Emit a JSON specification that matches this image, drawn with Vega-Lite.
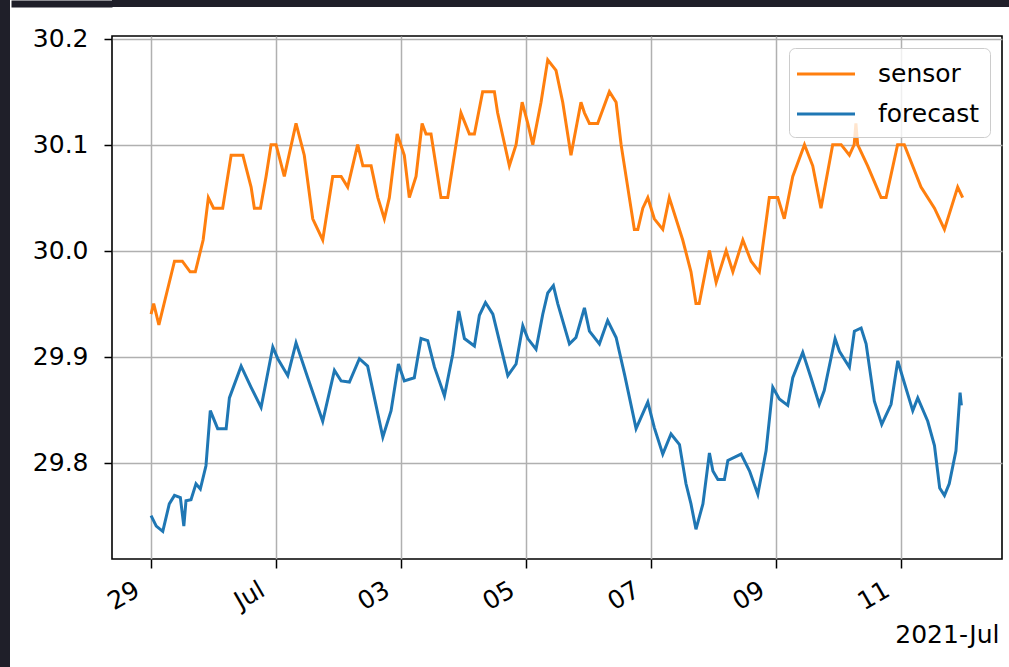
{
  "$schema": "https://vega.github.io/schema/vega-lite/v6.json",
  "padding": 0,
  "background": "white",
  "config": {
    "font": "DejaVu Sans",
    "view": {"stroke": null}
  },
  "datasets": {
    "series": [
      {"time": "2021-06-29T00:00", "series": "sensor", "value": 29.94},
      {"time": "2021-06-29T01:00", "series": "sensor", "value": 29.95},
      {"time": "2021-06-29T02:00", "series": "sensor", "value": 29.94},
      {"time": "2021-06-29T03:00", "series": "sensor", "value": 29.93},
      {"time": "2021-06-29T06:00", "series": "sensor", "value": 29.96},
      {"time": "2021-06-29T09:00", "series": "sensor", "value": 29.99},
      {"time": "2021-06-29T12:00", "series": "sensor", "value": 29.99},
      {"time": "2021-06-29T15:00", "series": "sensor", "value": 29.98},
      {"time": "2021-06-29T17:00", "series": "sensor", "value": 29.98},
      {"time": "2021-06-29T20:00", "series": "sensor", "value": 30.01},
      {"time": "2021-06-29T22:00", "series": "sensor", "value": 30.05},
      {"time": "2021-06-30T00:00", "series": "sensor", "value": 30.04},
      {"time": "2021-06-30T03:30", "series": "sensor", "value": 30.04},
      {"time": "2021-06-30T06:45", "series": "sensor", "value": 30.09},
      {"time": "2021-06-30T11:15", "series": "sensor", "value": 30.09},
      {"time": "2021-06-30T14:25", "series": "sensor", "value": 30.06},
      {"time": "2021-06-30T15:40", "series": "sensor", "value": 30.04},
      {"time": "2021-06-30T18:00", "series": "sensor", "value": 30.04},
      {"time": "2021-06-30T20:10", "series": "sensor", "value": 30.07},
      {"time": "2021-06-30T22:05", "series": "sensor", "value": 30.10},
      {"time": "2021-07-01T00:00", "series": "sensor", "value": 30.10},
      {"time": "2021-07-01T03:10", "series": "sensor", "value": 30.07},
      {"time": "2021-07-01T07:40", "series": "sensor", "value": 30.12},
      {"time": "2021-07-01T10:50", "series": "sensor", "value": 30.09},
      {"time": "2021-07-01T14:05", "series": "sensor", "value": 30.03},
      {"time": "2021-07-01T17:55", "series": "sensor", "value": 30.01},
      {"time": "2021-07-01T21:45", "series": "sensor", "value": 30.07},
      {"time": "2021-07-02T01:00", "series": "sensor", "value": 30.07},
      {"time": "2021-07-02T03:30", "series": "sensor", "value": 30.06},
      {"time": "2021-07-02T07:20", "series": "sensor", "value": 30.10},
      {"time": "2021-07-02T09:20", "series": "sensor", "value": 30.08},
      {"time": "2021-07-02T12:30", "series": "sensor", "value": 30.08},
      {"time": "2021-07-02T15:05", "series": "sensor", "value": 30.05},
      {"time": "2021-07-02T17:35", "series": "sensor", "value": 30.03},
      {"time": "2021-07-02T19:30", "series": "sensor", "value": 30.05},
      {"time": "2021-07-02T22:30", "series": "sensor", "value": 30.11},
      {"time": "2021-07-03T01:15", "series": "sensor", "value": 30.09},
      {"time": "2021-07-03T03:10", "series": "sensor", "value": 30.05},
      {"time": "2021-07-03T05:45", "series": "sensor", "value": 30.07},
      {"time": "2021-07-03T08:05", "series": "sensor", "value": 30.12},
      {"time": "2021-07-03T09:35", "series": "sensor", "value": 30.11},
      {"time": "2021-07-03T11:30", "series": "sensor", "value": 30.11},
      {"time": "2021-07-03T15:20", "series": "sensor", "value": 30.05},
      {"time": "2021-07-03T17:55", "series": "sensor", "value": 30.05},
      {"time": "2021-07-03T23:00", "series": "sensor", "value": 30.13},
      {"time": "2021-07-04T02:15", "series": "sensor", "value": 30.11},
      {"time": "2021-07-04T04:10", "series": "sensor", "value": 30.11},
      {"time": "2021-07-04T07:20", "series": "sensor", "value": 30.15},
      {"time": "2021-07-04T11:50", "series": "sensor", "value": 30.15},
      {"time": "2021-07-04T13:05", "series": "sensor", "value": 30.13},
      {"time": "2021-07-04T17:35", "series": "sensor", "value": 30.08},
      {"time": "2021-07-04T20:10", "series": "sensor", "value": 30.10},
      {"time": "2021-07-04T22:30", "series": "sensor", "value": 30.14},
      {"time": "2021-07-05T00:40", "series": "sensor", "value": 30.12},
      {"time": "2021-07-05T02:35", "series": "sensor", "value": 30.10},
      {"time": "2021-07-05T05:45", "series": "sensor", "value": 30.14},
      {"time": "2021-07-05T08:20", "series": "sensor", "value": 30.18},
      {"time": "2021-07-05T11:30", "series": "sensor", "value": 30.17},
      {"time": "2021-07-05T14:05", "series": "sensor", "value": 30.14},
      {"time": "2021-07-05T17:15", "series": "sensor", "value": 30.09},
      {"time": "2021-07-05T21:05", "series": "sensor", "value": 30.14},
      {"time": "2021-07-05T22:25", "series": "sensor", "value": 30.13},
      {"time": "2021-07-06T00:20", "series": "sensor", "value": 30.12},
      {"time": "2021-07-06T03:30", "series": "sensor", "value": 30.12},
      {"time": "2021-07-06T08:00", "series": "sensor", "value": 30.15},
      {"time": "2021-07-06T10:35", "series": "sensor", "value": 30.14},
      {"time": "2021-07-06T12:30", "series": "sensor", "value": 30.10},
      {"time": "2021-07-06T15:40", "series": "sensor", "value": 30.05},
      {"time": "2021-07-06T17:35", "series": "sensor", "value": 30.02},
      {"time": "2021-07-06T18:55", "series": "sensor", "value": 30.02},
      {"time": "2021-07-06T20:50", "series": "sensor", "value": 30.04},
      {"time": "2021-07-06T22:45", "series": "sensor", "value": 30.05},
      {"time": "2021-07-07T01:15", "series": "sensor", "value": 30.03},
      {"time": "2021-07-07T04:30", "series": "sensor", "value": 30.02},
      {"time": "2021-07-07T07:00", "series": "sensor", "value": 30.05},
      {"time": "2021-07-07T12:10", "series": "sensor", "value": 30.01},
      {"time": "2021-07-07T15:20", "series": "sensor", "value": 29.98},
      {"time": "2021-07-07T17:15", "series": "sensor", "value": 29.95},
      {"time": "2021-07-07T18:30", "series": "sensor", "value": 29.95},
      {"time": "2021-07-07T22:25", "series": "sensor", "value": 30.00},
      {"time": "2021-07-08T01:00", "series": "sensor", "value": 29.97},
      {"time": "2021-07-08T04:50", "series": "sensor", "value": 30.00},
      {"time": "2021-07-08T07:25", "series": "sensor", "value": 29.98},
      {"time": "2021-07-08T11:15", "series": "sensor", "value": 30.01},
      {"time": "2021-07-08T14:25", "series": "sensor", "value": 29.99},
      {"time": "2021-07-08T17:35", "series": "sensor", "value": 29.98},
      {"time": "2021-07-08T21:25", "series": "sensor", "value": 30.05},
      {"time": "2021-07-09T00:40", "series": "sensor", "value": 30.05},
      {"time": "2021-07-09T03:10", "series": "sensor", "value": 30.03},
      {"time": "2021-07-09T06:25", "series": "sensor", "value": 30.07},
      {"time": "2021-07-09T10:55", "series": "sensor", "value": 30.10},
      {"time": "2021-07-09T14:05", "series": "sensor", "value": 30.08},
      {"time": "2021-07-09T17:15", "series": "sensor", "value": 30.04},
      {"time": "2021-07-09T21:45", "series": "sensor", "value": 30.10},
      {"time": "2021-07-10T01:00", "series": "sensor", "value": 30.10},
      {"time": "2021-07-10T04:10", "series": "sensor", "value": 30.09},
      {"time": "2021-07-10T06:00", "series": "sensor", "value": 30.10},
      {"time": "2021-07-10T06:40", "series": "sensor", "value": 30.12},
      {"time": "2021-07-10T07:20", "series": "sensor", "value": 30.10},
      {"time": "2021-07-10T11:10", "series": "sensor", "value": 30.08},
      {"time": "2021-07-10T16:20", "series": "sensor", "value": 30.05},
      {"time": "2021-07-10T18:15", "series": "sensor", "value": 30.05},
      {"time": "2021-07-10T22:40", "series": "sensor", "value": 30.10},
      {"time": "2021-07-11T01:15", "series": "sensor", "value": 30.10},
      {"time": "2021-07-11T07:40", "series": "sensor", "value": 30.06},
      {"time": "2021-07-11T12:50", "series": "sensor", "value": 30.04},
      {"time": "2021-07-11T16:40", "series": "sensor", "value": 30.02},
      {"time": "2021-07-11T21:45", "series": "sensor", "value": 30.06},
      {"time": "2021-07-11T23:40", "series": "sensor", "value": 30.05},

      {"time": "2021-06-29T00:00", "series": "forecast", "value": 29.750},
      {"time": "2021-06-29T02:00", "series": "forecast", "value": 29.740},
      {"time": "2021-06-29T04:30", "series": "forecast", "value": 29.735},
      {"time": "2021-06-29T07:00", "series": "forecast", "value": 29.761},
      {"time": "2021-06-29T09:00", "series": "forecast", "value": 29.769},
      {"time": "2021-06-29T11:15", "series": "forecast", "value": 29.767},
      {"time": "2021-06-29T12:35", "series": "forecast", "value": 29.740},
      {"time": "2021-06-29T13:25", "series": "forecast", "value": 29.764},
      {"time": "2021-06-29T15:20", "series": "forecast", "value": 29.765},
      {"time": "2021-06-29T17:15", "series": "forecast", "value": 29.780},
      {"time": "2021-06-29T18:55", "series": "forecast", "value": 29.775},
      {"time": "2021-06-29T21:05", "series": "forecast", "value": 29.797},
      {"time": "2021-06-29T22:45", "series": "forecast", "value": 29.849},
      {"time": "2021-06-30T01:35", "series": "forecast", "value": 29.832},
      {"time": "2021-06-30T04:50", "series": "forecast", "value": 29.832},
      {"time": "2021-06-30T06:05", "series": "forecast", "value": 29.861},
      {"time": "2021-06-30T10:35", "series": "forecast", "value": 29.891},
      {"time": "2021-06-30T14:25", "series": "forecast", "value": 29.871},
      {"time": "2021-06-30T18:15", "series": "forecast", "value": 29.852},
      {"time": "2021-06-30T22:45", "series": "forecast", "value": 29.909},
      {"time": "2021-07-01T00:40", "series": "forecast", "value": 29.898},
      {"time": "2021-07-01T04:30", "series": "forecast", "value": 29.882},
      {"time": "2021-07-01T07:40", "series": "forecast", "value": 29.913},
      {"time": "2021-07-01T12:10", "series": "forecast", "value": 29.880},
      {"time": "2021-07-01T17:55", "series": "forecast", "value": 29.839},
      {"time": "2021-07-01T22:25", "series": "forecast", "value": 29.887},
      {"time": "2021-07-02T01:00", "series": "forecast", "value": 29.877},
      {"time": "2021-07-02T04:10", "series": "forecast", "value": 29.876},
      {"time": "2021-07-02T08:00", "series": "forecast", "value": 29.898},
      {"time": "2021-07-02T11:10", "series": "forecast", "value": 29.891},
      {"time": "2021-07-02T17:00", "series": "forecast", "value": 29.824},
      {"time": "2021-07-02T20:10", "series": "forecast", "value": 29.849},
      {"time": "2021-07-02T23:00", "series": "forecast", "value": 29.893},
      {"time": "2021-07-03T01:15", "series": "forecast", "value": 29.877},
      {"time": "2021-07-03T05:05", "series": "forecast", "value": 29.880},
      {"time": "2021-07-03T07:40", "series": "forecast", "value": 29.917},
      {"time": "2021-07-03T10:15", "series": "forecast", "value": 29.915},
      {"time": "2021-07-03T12:50", "series": "forecast", "value": 29.890},
      {"time": "2021-07-03T16:40", "series": "forecast", "value": 29.863},
      {"time": "2021-07-03T19:50", "series": "forecast", "value": 29.902},
      {"time": "2021-07-03T22:10", "series": "forecast", "value": 29.943},
      {"time": "2021-07-04T00:20", "series": "forecast", "value": 29.917},
      {"time": "2021-07-04T04:10", "series": "forecast", "value": 29.910},
      {"time": "2021-07-04T06:05", "series": "forecast", "value": 29.939},
      {"time": "2021-07-04T08:25", "series": "forecast", "value": 29.951},
      {"time": "2021-07-04T11:15", "series": "forecast", "value": 29.940},
      {"time": "2021-07-04T17:00", "series": "forecast", "value": 29.882},
      {"time": "2021-07-04T20:10", "series": "forecast", "value": 29.893},
      {"time": "2021-07-04T22:45", "series": "forecast", "value": 29.929},
      {"time": "2021-07-05T00:40", "series": "forecast", "value": 29.917},
      {"time": "2021-07-05T03:50", "series": "forecast", "value": 29.907},
      {"time": "2021-07-05T06:25", "series": "forecast", "value": 29.940},
      {"time": "2021-07-05T08:20", "series": "forecast", "value": 29.960},
      {"time": "2021-07-05T10:30", "series": "forecast", "value": 29.967},
      {"time": "2021-07-05T12:10", "series": "forecast", "value": 29.950},
      {"time": "2021-07-05T16:40", "series": "forecast", "value": 29.912},
      {"time": "2021-07-05T19:10", "series": "forecast", "value": 29.918},
      {"time": "2021-07-05T22:25", "series": "forecast", "value": 29.946},
      {"time": "2021-07-06T00:20", "series": "forecast", "value": 29.924},
      {"time": "2021-07-06T04:10", "series": "forecast", "value": 29.912},
      {"time": "2021-07-06T07:20", "series": "forecast", "value": 29.934},
      {"time": "2021-07-06T10:35", "series": "forecast", "value": 29.918},
      {"time": "2021-07-06T13:50", "series": "forecast", "value": 29.883},
      {"time": "2021-07-06T18:15", "series": "forecast", "value": 29.832},
      {"time": "2021-07-06T22:45", "series": "forecast", "value": 29.857},
      {"time": "2021-07-07T01:15", "series": "forecast", "value": 29.833},
      {"time": "2021-07-07T04:30", "series": "forecast", "value": 29.808},
      {"time": "2021-07-07T07:40", "series": "forecast", "value": 29.827},
      {"time": "2021-07-07T10:55", "series": "forecast", "value": 29.817},
      {"time": "2021-07-07T13:25", "series": "forecast", "value": 29.780},
      {"time": "2021-07-07T15:20", "series": "forecast", "value": 29.761},
      {"time": "2021-07-07T17:15", "series": "forecast", "value": 29.737},
      {"time": "2021-07-07T19:55", "series": "forecast", "value": 29.761},
      {"time": "2021-07-07T22:25", "series": "forecast", "value": 29.809},
      {"time": "2021-07-07T23:45", "series": "forecast", "value": 29.792},
      {"time": "2021-07-08T01:40", "series": "forecast", "value": 29.784},
      {"time": "2021-07-08T04:10", "series": "forecast", "value": 29.784},
      {"time": "2021-07-08T05:30", "series": "forecast", "value": 29.802},
      {"time": "2021-07-08T10:35", "series": "forecast", "value": 29.808},
      {"time": "2021-07-08T13:50", "series": "forecast", "value": 29.792},
      {"time": "2021-07-08T17:00", "series": "forecast", "value": 29.770},
      {"time": "2021-07-08T20:10", "series": "forecast", "value": 29.811},
      {"time": "2021-07-08T22:45", "series": "forecast", "value": 29.871},
      {"time": "2021-07-09T01:15", "series": "forecast", "value": 29.860},
      {"time": "2021-07-09T04:30", "series": "forecast", "value": 29.854},
      {"time": "2021-07-09T06:25", "series": "forecast", "value": 29.880},
      {"time": "2021-07-09T10:15", "series": "forecast", "value": 29.904},
      {"time": "2021-07-09T13:25", "series": "forecast", "value": 29.880},
      {"time": "2021-07-09T16:35", "series": "forecast", "value": 29.855},
      {"time": "2021-07-09T18:30", "series": "forecast", "value": 29.868},
      {"time": "2021-07-09T22:40", "series": "forecast", "value": 29.917},
      {"time": "2021-07-10T00:20", "series": "forecast", "value": 29.905},
      {"time": "2021-07-10T04:10", "series": "forecast", "value": 29.890},
      {"time": "2021-07-10T06:05", "series": "forecast", "value": 29.924},
      {"time": "2021-07-10T08:40", "series": "forecast", "value": 29.927},
      {"time": "2021-07-10T10:35", "series": "forecast", "value": 29.912},
      {"time": "2021-07-10T13:45", "series": "forecast", "value": 29.858},
      {"time": "2021-07-10T16:35", "series": "forecast", "value": 29.836},
      {"time": "2021-07-10T20:10", "series": "forecast", "value": 29.855},
      {"time": "2021-07-10T22:45", "series": "forecast", "value": 29.896},
      {"time": "2021-07-11T00:40", "series": "forecast", "value": 29.880},
      {"time": "2021-07-11T04:30", "series": "forecast", "value": 29.849},
      {"time": "2021-07-11T06:25", "series": "forecast", "value": 29.861},
      {"time": "2021-07-11T10:15", "series": "forecast", "value": 29.839},
      {"time": "2021-07-11T12:50", "series": "forecast", "value": 29.816},
      {"time": "2021-07-11T14:50", "series": "forecast", "value": 29.776},
      {"time": "2021-07-11T16:40", "series": "forecast", "value": 29.769},
      {"time": "2021-07-11T18:30", "series": "forecast", "value": 29.780},
      {"time": "2021-07-11T21:05", "series": "forecast", "value": 29.811},
      {"time": "2021-07-11T22:40", "series": "forecast", "value": 29.866},
      {"time": "2021-07-11T23:10", "series": "forecast", "value": 29.854}
    ]
  },
  "columns": 2,
  "align": "none",
  "spacing": 0,
  "resolve": {"scale": {"color": "independent"}, "legend": {"color": "independent"}},
  "concat": [
    {
      "width": 10,
      "height": 667,
      "data": {"values": []},
      "mark": "point",
      "view": {"fill": "#1f1f29", "stroke": null}
    },
    {
      "columns": 1,
      "align": "none",
      "spacing": 18,
      "resolve": {"scale": {"color": "independent"}, "legend": {"color": "independent"}},
      "concat": [
        {
          "width": 898,
          "height": 7,
          "data": {"values": []},
          "mark": "point",
          "encoding": {
            "y": {
              "field": "edge",
              "type": "quantitative",
              "axis": {
                "orient": "left",
                "domain": true,
                "domainColor": "#1f1f29",
                "domainWidth": 101,
                "domainCap": "butt",
                "offset": 50.5,
                "labels": false,
                "ticks": false,
                "grid": false,
                "title": null,
                "minExtent": 0,
                "maxExtent": 0
              }
            }
          },
          "view": {"fill": "#1f1f29", "stroke": null}
        },
        {
          "width": 890,
          "height": 523,
          "data": {"name": "series"},
          "view": {"stroke": "#000000", "strokeWidth": 1.6, "fill": "white"},
          "mark": {"type": "line", "strokeWidth": 3, "clip": true},
          "encoding": {
            "x": {
              "field": "time",
              "type": "temporal",
              "scale": {
                "domain": [
                  {"year": 2021, "month": 6, "date": 28, "hours": 9, "minutes": 0},
                  {"year": 2021, "month": 7, "date": 12, "hours": 14, "minutes": 46}
                ]
              },
              "axis": {
                "values": [
                  {"year": 2021, "month": 6, "date": 29},
                  {"year": 2021, "month": 7, "date": 1},
                  {"year": 2021, "month": 7, "date": 3},
                  {"year": 2021, "month": 7, "date": 5},
                  {"year": 2021, "month": 7, "date": 7},
                  {"year": 2021, "month": 7, "date": 9},
                  {"year": 2021, "month": 7, "date": 11}
                ],
                "labelExpr": "date(datum.value) == 1 ? 'Jul' : timeFormat(datum.value, '%d')",
                "labelAngle": -30,
                "labelAlign": "right",
                "labelBaseline": "top",
                "labelOffset": -20,
                "labelPadding": 9,
                "labelFontSize": 25,
                "labelColor": "#000000",
                "labelFont": "DejaVu Sans",
                "tickColor": "#000000",
                "tickSize": 9,
                "tickWidth": 1.5,
                "domain": false,
                "grid": true,
                "gridColor": "#b0b0b0",
                "gridWidth": 1.5,
                "title": "2021-Jul",
                "titleFont": "DejaVu Sans",
                "titleFontSize": 25,
                "titleFontWeight": "normal",
                "titleColor": "#000000",
                "titleAnchor": "end",
                "titleAlign": "right",
                "titleBaseline": "top",
                "titleX": 887,
                "titleY": 63
              }
            },
            "y": {
              "field": "value",
              "type": "quantitative",
              "scale": {"domain": [29.709, 30.2025], "nice": false, "zero": false},
              "axis": {
                "values": [29.8, 29.9, 30.0, 30.1, 30.2],
                "format": ".1f",
                "labelFontSize": 25,
                "labelColor": "#000000",
                "labelFont": "DejaVu Sans",
                "labelPadding": 16,
                "tickColor": "#000000",
                "tickSize": 8,
                "tickWidth": 1.5,
                "domain": false,
                "grid": true,
                "gridColor": "#b0b0b0",
                "gridWidth": 1.5,
                "title": null,
                "minExtent": 101,
                "maxExtent": 101
              }
            },
            "color": {
              "field": "series",
              "type": "nominal",
              "scale": {"domain": ["sensor", "forecast"], "range": ["#ff7f0e", "#1f77b4"]},
              "legend": {
                "title": null,
                "orient": "top-right",
                "offset": 12,
                "symbolType": "M-2,0H2",
                "symbolSize": 841,
                "symbolStrokeWidth": 3,
                "symbolOffset": 11,
                "labelFontSize": 25,
                "labelFont": "DejaVu Sans",
                "labelColor": "#000000",
                "labelOffset": 36,
                "padding": 10,
                "rowPadding": 11,
                "fillColor": "rgba(255,255,255,0.8)",
                "strokeColor": "#cccccc",
                "cornerRadius": 6
              }
            }
          }
        }
      ]
    }
  ]
}
